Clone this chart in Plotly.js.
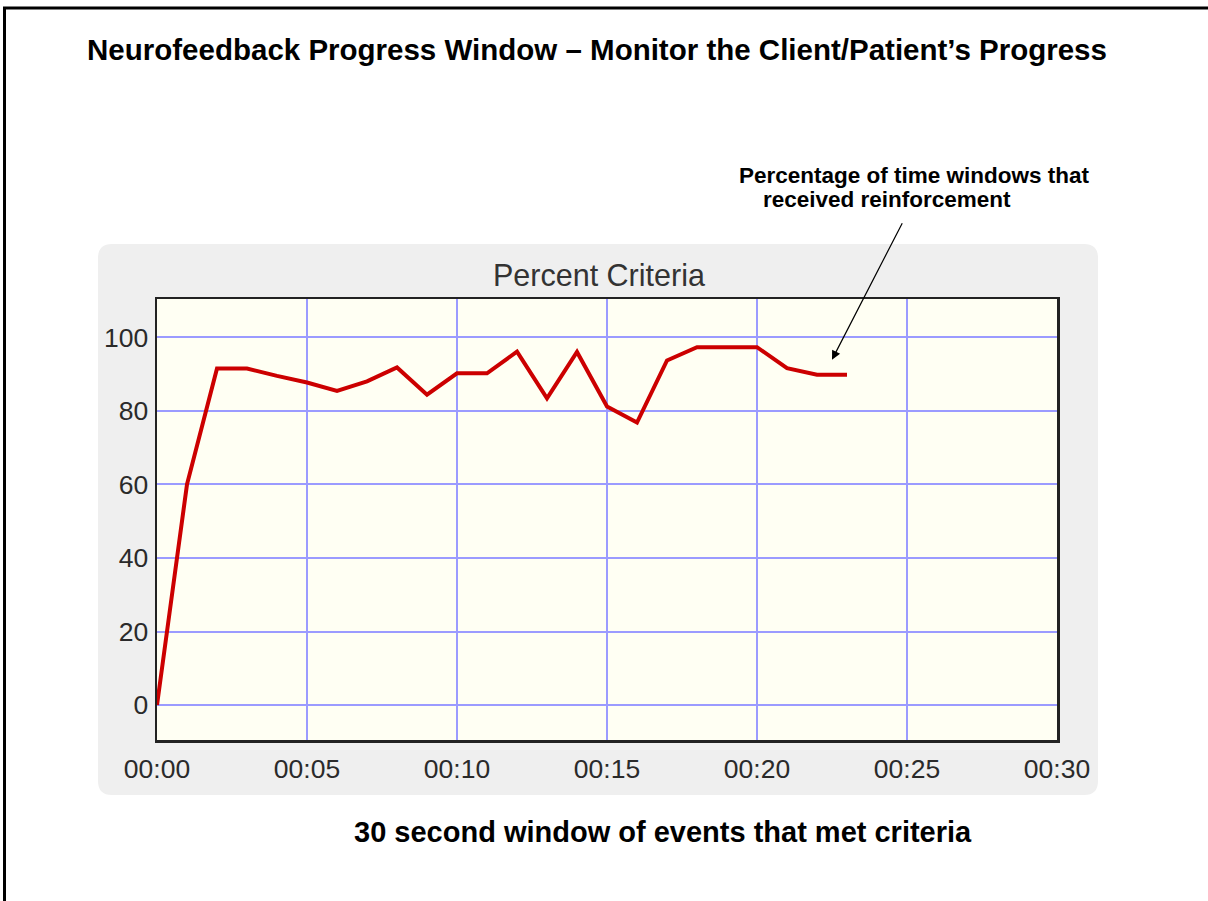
<!DOCTYPE html>
<html>
<head>
<meta charset="utf-8">
<script src="https://cdn.plot.ly/plotly-3.0.1.min.js"></script>
<style>
html,body{margin:0;padding:0;background:#fff;}
#chart{width:1208px;height:901px;}
</style>
</head>
<body>
<div id="chart"></div>
<script>
// ---- data ----
const seconds = [0,1,2,3,4,5,6,7,8,9,10,11,12,13,14,15,16,17,18,19,20,21,22,23];
const percentCriteria = [0,60,91.5,91.5,89.5,87.7,85.4,88,91.8,84.4,90.2,90.2,96.1,83.4,96,81.2,76.8,93.7,97.3,97.3,97.3,91.6,89.8,89.8];
const xTickValues = [0,5,10,15,20,25,30];
const xTickLabels = ["00:00","00:05","00:10","00:15","00:20","00:25","00:30"];
const yTickValues = [0,20,40,60,80,100];

const mainTitle = "Neurofeedback Progress Window \u2013 Monitor the Client/Patient\u2019s Progress";
const chartTitle = "Percent Criteria";
const noteLine1 = "Percentage of time windows that";
const noteLine2 = "received reinforcement";
const footer = "30 second window of events that met criteria";

// ---- geometry helpers (pixel -> paper fraction) ----
const W = 1208, H = 901;
const PL = 157, PR = 1057, PT = 299, PB = 740;
const X = px => (px - PL) / (PR - PL);
const Y = py => (PB - py) / (PB - PT);

function roundRect(x0, y0, x1, y1, r) {
  const rx = r / (PR - PL), ry = r / (PB - PT);
  const a = X(x0), b = X(x1), t = Y(y0), u = Y(y1);
  return `M ${a+rx},${t} L ${b-rx},${t} Q ${b},${t} ${b},${t-ry} L ${b},${u+ry} Q ${b},${u} ${b-rx},${u} L ${a+rx},${u} Q ${a},${u} ${a},${u+ry} L ${a},${t-ry} Q ${a},${t} ${a+rx},${t} Z`;
}

const boldFont = {family: '"Liberation Sans", Arial, sans-serif', size: 26, color: '#000', weight: 'bold'};
const tickFont = {family: '"Liberation Sans", Arial, sans-serif', size: 26.5, color: '#2a2a2a'};

const trace = {
  x: seconds,
  y: percentCriteria,
  type: 'scatter',
  mode: 'lines',
  line: {color: '#cc0000', width: 4},
  hoverinfo: 'skip',
  showlegend: false
};

const layout = {
  width: W, height: H,
  paper_bgcolor: '#ffffff',
  plot_bgcolor: 'rgba(0,0,0,0)',
  margin: {l: PL, r: W - PR, t: PT, b: H - PB, pad: 0},
  title: {
    text: mainTitle,
    font: Object.assign({}, boldFont, {size: 29.5}),
    x: 597 / W, xanchor: 'center',
    y: 1 - 50 / H, yanchor: 'middle', xref: 'container', yref: 'container'
  },
  xaxis: {
    range: [0, 30],
    tickmode: 'array', tickvals: xTickValues, ticktext: xTickLabels,
    showgrid: true, gridcolor: 'rgb(155,155,255)', gridwidth: 2,
    zeroline: false,
    showline: true, linecolor: '#222', linewidth: 2.5, mirror: true,
    ticks: 'outside', ticklen: 4, tickcolor: 'rgba(0,0,0,0)',
    tickfont: tickFont,
    fixedrange: true
  },
  yaxis: {
    range: [-9.5, 110.4],
    tickmode: 'array', tickvals: yTickValues,
    showgrid: true, gridcolor: 'rgb(155,155,255)', gridwidth: 2,
    zeroline: false,
    showline: true, linecolor: '#222', linewidth: 2.5, mirror: true,
    ticks: 'outside', ticklen: 1, tickcolor: 'rgba(0,0,0,0)',
    tickfont: tickFont,
    fixedrange: true
  },
  shapes: [
    // outer frame (left and top)
    {type: 'line', xref: 'paper', yref: 'paper', x0: X(4.5), x1: X(4.5), y0: Y(7), y1: Y(H + 5), line: {color: '#000', width: 3}, layer: 'below'},
    {type: 'line', xref: 'paper', yref: 'paper', x0: X(3), x1: X(W + 5), y0: Y(8), y1: Y(8), line: {color: '#000', width: 3}, layer: 'below'},
    // grey rounded panel
    {type: 'path', xref: 'paper', yref: 'paper', path: roundRect(98, 244, 1098, 795, 14), fillcolor: '#efefef', line: {width: 0}, layer: 'below'},
    // ivory plot background
    {type: 'rect', xref: 'paper', yref: 'paper', x0: 0, x1: 1, y0: 0, y1: 1, fillcolor: '#fffff3', line: {width: 0}, layer: 'below'}
  ],
  annotations: [
    {text: chartTitle, xref: 'paper', yref: 'paper', x: X(599), y: Y(275), xanchor: 'center', yanchor: 'middle', showarrow: false,
     font: {family: '"Liberation Sans", Arial, sans-serif', size: 30.5, color: '#333'}},
    {text: noteLine1, xref: 'paper', yref: 'paper', x: X(737), y: Y(176), xanchor: 'left', yanchor: 'middle', showarrow: false,
     font: Object.assign({}, boldFont, {size: 22.5})},
    {text: noteLine2, xref: 'paper', yref: 'paper', x: X(761), y: Y(199), xanchor: 'left', yanchor: 'middle', showarrow: false,
     font: Object.assign({}, boldFont, {size: 22.5})},
    {text: '', xref: 'x', yref: 'y', x: 22.5, y: 93.9, showarrow: true, arrowhead: 2, arrowsize: 1.5, arrowwidth: 1.2, arrowcolor: '#000',
     axref: 'pixel', ayref: 'pixel', ax: 71, ay: -138, standoff: 0},
    {text: footer, xref: 'paper', yref: 'paper', x: X(663), y: Y(832), xanchor: 'center', yanchor: 'middle', showarrow: false,
     font: Object.assign({}, boldFont, {size: 29})}
  ]
};

Plotly.newPlot('chart', [trace], layout, {staticPlot: true, displayModeBar: false});
</script>
</body>
</html>
